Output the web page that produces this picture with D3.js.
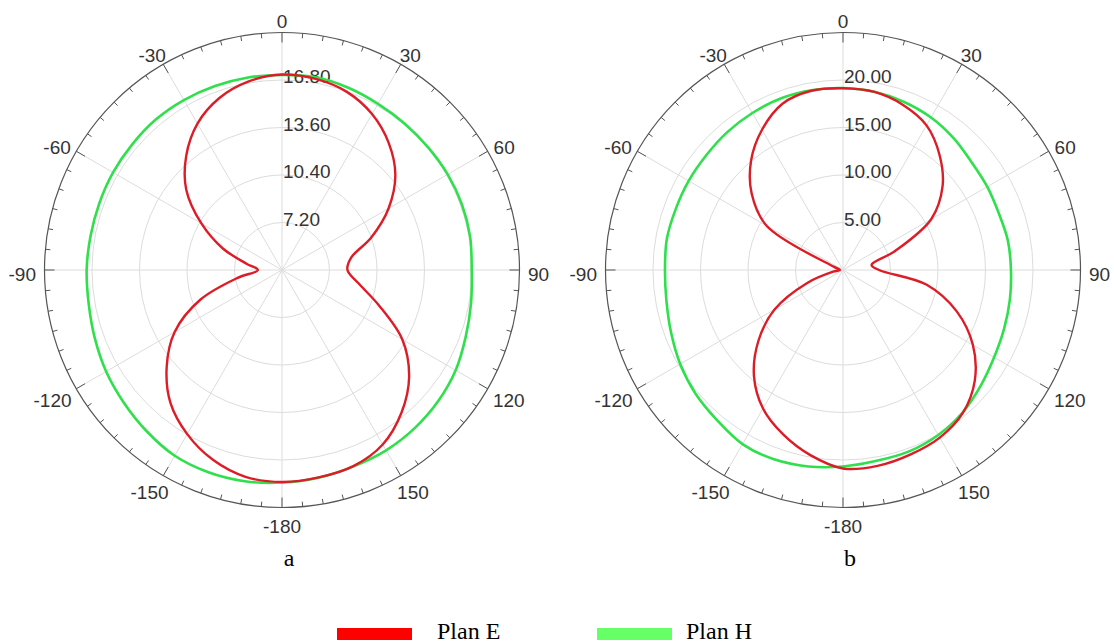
<!DOCTYPE html>
<html>
<head>
<meta charset="utf-8">
<script src="https://cdn.jsdelivr.net/npm/d3@7"></script>
<style>
  html, body { margin: 0; padding: 0; background: #fff; }
  svg { display: block; }
</style>
</head>
<body>
<svg id="chart" width="1114" height="644"></svg>
<script>
// ---------- data ----------
const angles = [-180,-170,-160,-150,-140,-130,-120,-110,-100,-90,-80,-70,-60,-50,-40,-30,-20,-10,
                0,10,20,30,40,50,60,70,80,90,100,110,120,130,140,150,160,170];

// panel a
const aPlanE = [18.28,18.15,17.61,16.77,15.69,14.14,12.35,9.86,7.03,5.62,6.43,8.24,10.27,12.42,14.04,15.39,16.33,16.90,
                17.17,17.07,16.77,16.13,15.18,13.97,12.29,10.40,8.72,8.41,9.25,10.94,13.36,15.18,16.53,17.57,18.06,18.19];
const aPlanH = [18.32,18.45,18.50,18.45,18.18,17.91,17.68,17.42,17.22,17.16,17.10,17.10,17.14,17.17,17.23,17.22,17.19,17.17,
                17.14,17.19,17.07,16.93,16.87,16.85,16.89,16.90,16.87,16.78,16.93,17.17,17.51,17.74,17.91,18.03,18.08,18.21];
const aRadialDomain = [4, 20];
const aRadialTicks = [7.20, 10.40, 13.60, 16.80];

// panel b
const bPlanE = [20.89,19.79,18.42,16.84,14.58,11.63,8.32,4.05,1.05,0.32,0.42,1.05,9.26,12.56,15.05,17.05,18.63,19.16,
                19.13,19.03,18.49,17.58,15.81,13.68,10.74,5.84,3.05,3.79,8.95,12.74,15.79,18.11,19.63,20.37,20.68,20.93];
const bPlanH = [20.68,21.00,21.21,21.16,20.63,20.26,19.79,19.26,18.87,18.74,18.83,18.74,18.76,18.79,18.95,19.08,19.21,19.21,
                19.16,19.05,18.82,18.53,18.11,17.66,17.53,17.45,17.63,17.68,17.84,18.05,18.37,18.93,19.58,20.05,20.32,20.40];
const bRadialDomain = [0, 25];
const bRadialTicks = [5, 10, 15, 20];

const angleTickLabels = [0, 30, 60, 90, 120, 150, -180, -150, -120, -90, -60, -30];
const panelLabels = ["a", "b"];
const seriesNames = ["Plan E", "Plan H"];
const seriesColors = ["#dc1c26", "#2fe04c"];
const legendColors = ["#ff0000", "#66ff66"];

// ---------- drawing ----------
const svg = d3.select("#chart");
const R = 237.5;
const toRad = d => d * Math.PI / 180;

function drawPanel(cx, cy, planE, planH, domain, ticks, fmt, label) {
  const g = svg.append("g").attr("transform", `translate(${cx},${cy})`);
  const r = d3.scaleLinear().domain(domain).range([0, R]);
  const step = (domain[1] - domain[0]) / 5;
  const rings = d3.range(1, 5).map(i => domain[0] + i * step);

  // grid rings
  g.selectAll("circle.ring").data(rings).join("circle")
    .attr("r", d => r(d)).attr("fill", "none")
    .attr("stroke", "#dcdcdc").attr("stroke-width", 1);

  // spokes
  g.selectAll("line.spoke").data(d3.range(0, 360, 30)).join("line")
    .attr("x1", 0).attr("y1", 0)
    .attr("x2", d => R * Math.sin(toRad(d)))
    .attr("y2", d => -R * Math.cos(toRad(d)))
    .attr("stroke", "#dcdcdc").attr("stroke-width", 1);

  // outer circle
  g.append("circle").attr("r", R).attr("fill", "none")
    .attr("stroke", "#555").attr("stroke-width", 1.2);

  // angular ticks (inward)
  g.selectAll("line.tick").data(d3.range(0, 360, 5)).join("line")
    .attr("x1", d => R * Math.sin(toRad(d)))
    .attr("y1", d => -R * Math.cos(toRad(d)))
    .attr("x2", d => (R - (d % 30 === 0 ? 10 : 5)) * Math.sin(toRad(d)))
    .attr("y2", d => -(R - (d % 30 === 0 ? 10 : 5)) * Math.cos(toRad(d)))
    .attr("stroke", "#555").attr("stroke-width", 1);

  // angle labels
  const fs = 19;
  g.selectAll("text.ang").data(angleTickLabels).join("text")
    .attr("font-family", "Liberation Sans, Arial, sans-serif")
    .attr("font-size", fs).attr("fill", "#333")
    .attr("text-anchor", "middle").attr("dominant-baseline", "central")
    .each(function(d) {
      const t = String(d);
      const w = t.length * 0.556 * fs - (d < 0 ? 0.223 * fs : 0);
      const h = 0.716 * fs;
      const s = Math.sin(toRad(d)), c = Math.cos(toRad(d));
      const R0 = 246;
      const x = R0 * s + s * w / 2;
      const y = -R0 * c - c * h / 2;
      d3.select(this).attr("x", x).attr("y", y + 4).text(t);
    });

  // radial labels
  g.selectAll("text.rad").data(ticks).join("text")
    .attr("font-family", "Liberation Sans, Arial, sans-serif")
    .attr("font-size", fs).attr("fill", "#333")
    .attr("x", 1).attr("y", d => -r(d) + 3)
    .text(d => fmt(d));

  // series
  const line = d3.lineRadial()
    .angle(d => toRad(d[0]))
    .radius(d => r(d[1]))
    .curve(d3.curveCatmullRomClosed.alpha(0.5));

  g.append("path").datum(angles.map((a, i) => [a, planH[i]]))
    .attr("d", line).attr("fill", "none")
    .attr("stroke", seriesColors[1]).attr("stroke-width", 2.6)
    .attr("stroke-linejoin", "round");
  g.append("path").datum(angles.map((a, i) => [a, planE[i]]))
    .attr("d", line).attr("fill", "none")
    .attr("stroke", seriesColors[0]).attr("stroke-width", 2.4)
    .attr("stroke-linejoin", "round");

  // panel label
  svg.append("text").attr("x", cx + 7).attr("y", 566)
    .attr("font-family", "Liberation Serif, Times New Roman, serif")
    .attr("font-size", 24).attr("fill", "#000")
    .attr("text-anchor", "middle").text(label);
}

drawPanel(282, 270, aPlanE, aPlanH, aRadialDomain, aRadialTicks, d3.format(".2f"), panelLabels[0]);
drawPanel(843, 270, bPlanE, bPlanH, bRadialDomain, bRadialTicks, d3.format(".2f"), panelLabels[1]);

// legend
const legend = svg.append("g");
const legendX = [337, 597];
seriesNames.forEach((name, i) => {
  legend.append("rect").attr("x", legendX[i]).attr("y", 628)
    .attr("width", 75).attr("height", 12).attr("fill", legendColors[i]);
  legend.append("text").attr("x", legendX[i] + 100 - (i ? 11 : 0)).attr("y", 639)
    .attr("font-family", "Liberation Serif, Times New Roman, serif")
    .attr("font-size", 24).attr("fill", "#000").text(name);
});
</script>
</body>
</html>
